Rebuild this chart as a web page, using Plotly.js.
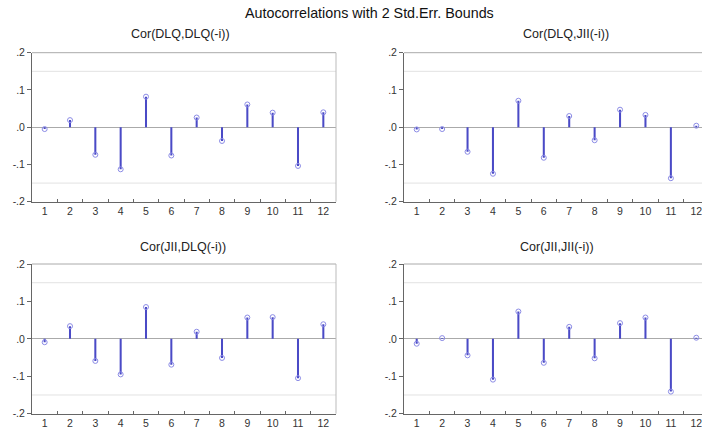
<!DOCTYPE html>
<html><head><meta charset="utf-8">
<script src="https://cdn.plot.ly/plotly-3.0.1.min.js"></script>
<style>html,body{margin:0;padding:0;overflow:hidden;background:#fff;width:702px;height:430px}#chart{width:712px;height:430px}</style>
</head><body><div id="chart"></div>
<script>
const lags = ['1','2','3','4','5','6','7','8','9','10','11','12'];
const corDLQ_DLQ = [-0.005,0.019,-0.074,-0.113,0.082,-0.076,0.026,-0.037,0.061,0.039,-0.104,0.040];
const corDLQ_JII = [-0.006,-0.005,-0.066,-0.125,0.071,-0.082,0.030,-0.035,0.047,0.033,-0.137,0.004];
const corJII_DLQ = [-0.009,0.034,-0.059,-0.095,0.085,-0.069,0.019,-0.051,0.057,0.058,-0.105,0.039];
const corJII_JII = [-0.013,0.002,-0.044,-0.109,0.073,-0.064,0.032,-0.052,0.042,0.057,-0.141,0.003];
const panelTitles = ['Cor(DLQ,DLQ(-i))','Cor(DLQ,JII(-i))','Cor(JII,DLQ(-i))','Cor(JII,JII(-i))'];
const seBound = 0.15;
const yTickVals = [-0.2,-0.1,0,0.1,0.2];
const yTickText = ['-.2','-.1','.0','.1','.2'];
const mainTitle = 'Autocorrelations with 2 Std.Err. Bounds';

const W = 712, H = 430;
const series = [corDLQ_DLQ, corDLQ_JII, corJII_DLQ, corJII_JII];
const xDom = [[32/W, 336/W],[404/W, 709/W],[32/W, 336/W],[404/W, 709/W]];
const yDom = [[1-201.7/H, 1-52.7/H],[1-201.7/H, 1-52.7/H],[1-413.7/H, 1-264/H],[1-413.7/H, 1-264/H]];
const titlePos = [[180,34],[566,34],[183,247],[557,247]];
const stemColor = '#4a4ac6';
const font = 'Liberation Sans, Arial, sans-serif';

const data = [], layout = {
  width: W, height: H, margin:{l:0,r:0,t:0,b:0},
  paper_bgcolor:'#fff', plot_bgcolor:'#fff', showlegend:false,
  font:{family:font, size:10, color:'#333'},
  shapes:[], annotations:[]
};
series.forEach((vals,i)=>{
  const n = i+1, xa = n===1?'x':'x'+n, ya = n===1?'y':'y'+n;
  data.push({type:'bar', x:lags, y:vals, xaxis:xa, yaxis:ya, width:0.08,
    marker:{color:stemColor, line:{width:0}}, hoverinfo:'skip'});
  data.push({type:'scatter', mode:'markers', x:lags, y:vals, xaxis:xa, yaxis:ya,
    marker:{symbol:'circle-open', size:5, color:'#8c8ce6', line:{width:1}}});
  const xk = n===1?'xaxis':'xaxis'+n, yk = n===1?'yaxis':'yaxis'+n;
  layout[xk] = {domain:xDom[i], anchor:ya, type:'category', range:[-0.5,11.5],
    tickson:'boundaries', ticks:'inside', ticklen:3, tickcolor:'#666',
    showline:true, linecolor:'#666', linewidth:1, showgrid:false, zeroline:false,
    tickfont:{family:font, size:10.5, color:'#333'}, fixedrange:true};
  layout[yk] = {domain:yDom[i], anchor:xa, range:[-0.2,0.2], tickvals:yTickVals, ticktext:yTickText,
    ticks:'outside', ticklen:4, tickcolor:'#666', showline:true, linecolor:'#666', linewidth:1,
    showgrid:false, zeroline:true, zerolinecolor:'#aaa', zerolinewidth:1,
    tickfont:{family:font, size:10.5, color:'#333'}, fixedrange:true};
  [seBound,-seBound].forEach(b=>layout.shapes.push({type:'line', xref:xa+' domain', yref:ya,
    x0:0, x1:1, y0:b, y1:b, line:{color:'#e2e2e2', width:1}, layer:'below'}));
  layout.shapes.push({type:'line', xref:xa+' domain', yref:ya+' domain', x0:0,x1:1,y0:1,y1:1, line:{color:'#aaa',width:1}});
  layout.shapes.push({type:'line', xref:xa+' domain', yref:ya+' domain', x0:1,x1:1,y0:0,y1:1, line:{color:'#bbb',width:1}});
  layout.annotations.push({text:panelTitles[i], xref:'paper', yref:'paper', x:titlePos[i][0]/W, y:1-titlePos[i][1]/H,
    xanchor:'center', yanchor:'middle', showarrow:false, font:{family:font, size:12.5, color:'#222'}});
});
layout.annotations.push({text:mainTitle, xref:'paper', yref:'paper', x:369.5/W, y:1-13/H,
  xanchor:'center', yanchor:'middle', showarrow:false, font:{family:font, size:14.3, color:'#111'}});
Plotly.newPlot('chart', data, layout, {displayModeBar:false, staticPlot:true});
</script></body></html>
